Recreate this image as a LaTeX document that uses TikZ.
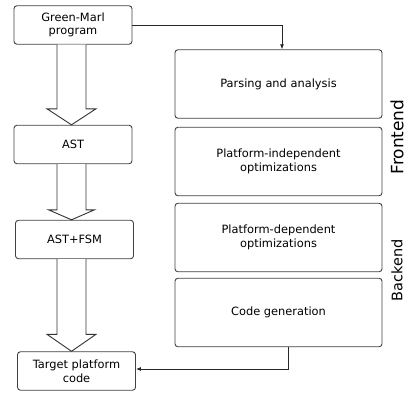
\documentclass[tikz,border=0pt]{standalone}
\usepackage{fontspec}
\setmainfont{DejaVu Sans}
\usetikzlibrary{calc,arrows.meta}

\begin{document}
\begin{tikzpicture}[x=1pt,y=-1pt,
	box/.style={draw=black!75,line width=0.9pt,rounded corners=3pt,align=center,inner sep=0pt,
		font=\fontsize{11.4}{13.5}\selectfont},
	smallbox/.style={box,minimum width=118pt,minimum height=38.5pt},
	stagebox/.style={box,minimum width=207pt,minimum height=68.5pt},
	fatarrow/.style={draw=black!80,line width=0.9pt,fill=white},
	link/.style={draw=black!85,line width=0.8pt,-{Latex[length=5pt,width=4pt]}},
	phase/.style={rotate=90}]
					\useasboundingbox (0,0) rectangle (406,394);
					% left column
					\node[smallbox] (gm) at (73,25) {Green-Marl\\program};
					\node[smallbox] (ast) at (73,144.5) {AST};
					\node[smallbox] (fsm) at (74.5,239.5) {AST+FSM};
					\node[smallbox] (tgt) at (76.5,371) {Target platform\\code};
					% right column
					\node[stagebox] (parse) at (278.5,84) {Parsing and analysis};
					\node[stagebox] (indep) at (278.5,161.5) {Platform-independent\\optimizations};
					\node[stagebox] (dep) at (278.5,237.5) {Platform-dependent\\optimizations};
					\node[stagebox] (gen) at (278.5,312.5) {Code generation};
					% phases
					\node[phase,font=\fontsize{17}{20}\selectfont] (front) at (397,137) {Frontend};
					\node[phase,font=\fontsize{14.5}{17}\selectfont] (back) at (397,270) {Backend};
					% block arrows
					\foreach \a/\b/\h/\w in {gm/ast/16/24.5, ast/fsm/10/23, fsm/tgt/17/24.5}{
						\coordinate (hb) at ($(\b.north)+(0,-\h)$);
						\draw[fatarrow] (57,0 |- \a.south) -- (57,0 |- hb) -- ({71.5-\w},0 |- hb)
							-- (71.5,0 |- \b.north) -- ({71.5+\w},0 |- hb) -- (86,0 |- hb) -- (86,0 |- \a.south);
					}
					% links
					\draw[link] (gm.east) -| ([xshift=3.5pt]parse.north);
					\draw[link] ([xshift=9.5pt]gen.south) |- ([yshift=2pt]tgt.east);
				\end{tikzpicture}
\end{document}
